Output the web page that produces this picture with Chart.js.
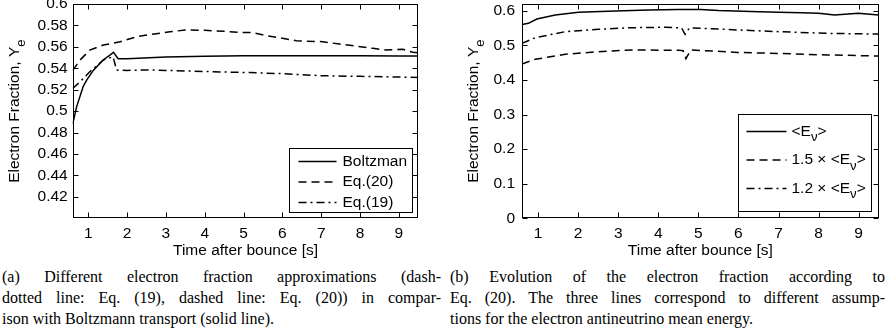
<!DOCTYPE html>
<html><head><meta charset="utf-8">
<script src="https://cdn.jsdelivr.net/npm/chart.js@4/dist/chart.umd.min.js"></script>
<style>
html,body{margin:0;padding:0;background:#fff;}
body{width:886px;height:335px;position:relative;overflow:hidden;}
canvas{position:absolute;top:0;}
#ca{left:0}
#cb{left:443px}
.cap{position:absolute;top:266px;font-family:"Liberation Serif","Times New Roman",serif;font-size:16px;line-height:21px;color:#000;}
.cap div{text-align:justify;text-align-last:justify;}
.cap div.last{text-align-last:left;}
#capa{left:2px;width:439px;}
#capb{left:450px;width:435px;}
</style></head>
<body>
<canvas id="ca" width="443" height="262"></canvas>
<canvas id="cb" width="443" height="262"></canvas>
<div class="cap" id="capa">
<div>(a) Different electron fraction approximations (dash-</div>
<div>dotted line: Eq. (19), dashed line: Eq. (20)) in compar-</div>
<div class="last">ison with Boltzmann transport (solid line).</div>
</div>
<div class="cap" id="capb">
<div>(b) Evolution of the electron fraction according to</div>
<div>Eq. (20). The three lines correspond to different assump-</div>
<div class="last">tions for the electron antineutrino mean energy.</div>
</div>
<script>
// ---------- data ----------
const xTicks = [1, 2, 3, 4, 5, 6, 7, 8, 9];
const yTicksA = [0.42, 0.44, 0.46, 0.48, 0.5, 0.52, 0.54, 0.56, 0.58, 0.6];
const yTicksB = [0, 0.1, 0.2, 0.3, 0.4, 0.5, 0.6];
const yTitle = 'Electron Fraction, Y_{e}';
const xTitle = 'Time after bounce [s]';

// panel (a)
const tBoltz = [0.6, 0.7, 0.87, 0.96, 1.13, 1.39, 1.55, 1.65, 1.77, 2.0, 3.0, 4.0, 5.0, 6.0, 7.0, 8.0, 9.0, 9.5];
const yBoltz = [0.488, 0.504, 0.523, 0.529, 0.538, 0.548, 0.552, 0.555, 0.549, 0.549, 0.5505, 0.5512, 0.5516, 0.5517, 0.5517, 0.5517, 0.5515, 0.5515];
const tEq20 = [0.6, 0.79, 1.04, 1.39, 1.82, 2.25, 2.7, 3.1, 3.5, 4.0, 4.5, 4.9, 5.2, 5.59, 6.0, 6.36, 7.04, 7.47, 7.9, 8.33, 8.67, 9.1, 9.36, 9.5];
const yEq20 = [0.538, 0.5477, 0.557, 0.5617, 0.5648, 0.5695, 0.572, 0.5741, 0.5757, 0.5755, 0.5745, 0.5735, 0.5735, 0.5704, 0.568, 0.5657, 0.5648, 0.5626, 0.5607, 0.5586, 0.557, 0.5577, 0.5549, 0.5545];
const tEq19 = [0.6, 0.79, 1.04, 1.39, 1.64, 1.73, 2.0, 2.5, 3.0, 4.0, 4.9, 5.16, 6.0, 7.04, 8.0, 9.0, 9.5];
const yEq19 = [0.5212, 0.5274, 0.5367, 0.5477, 0.5508, 0.5383, 0.538, 0.5385, 0.538, 0.537, 0.5362, 0.536, 0.535, 0.533, 0.5325, 0.5318, 0.5315];

// panel (b)
const tE10 = [0.6, 0.76, 0.97, 1.43, 2.01, 2.93, 3.77, 4.5, 5.06, 5.5, 6.31, 7.0, 7.57, 8.0, 8.4, 8.99, 9.5];
const yE10 = [0.561, 0.564, 0.5767, 0.588, 0.596, 0.600, 0.603, 0.604, 0.604, 0.601, 0.598, 0.596, 0.595, 0.593, 0.588, 0.593, 0.588];
const tE15 = [0.6, 0.93, 1.68, 2.51, 3.35, 4.52, 4.62, 4.69, 4.81, 5.98, 7.0, 8.24, 9.5];
const yE15 = [0.4465, 0.460, 0.4745, 0.482, 0.487, 0.486, 0.485, 0.462, 0.487, 0.480, 0.477, 0.4725, 0.4696];
const tE12 = [0.6, 0.93, 1.68, 2.51, 3.35, 4.18, 4.58, 4.67, 4.78, 5.98, 7.0, 8.24, 9.5];
const yE12 = [0.506, 0.5226, 0.540, 0.547, 0.5515, 0.5527, 0.551, 0.532, 0.551, 0.545, 0.540, 0.535, 0.533];

// ---------- helpers ----------
const FAM = '"Liberation Sans", Arial, sans-serif';
const FS = 15.5;
const pts = (t, y) => t.map((v, i) => ({x: v, y: y[i]}));
const SOLID = [], DASH = [8, 5], DASHDOT = [8, 4, 2, 4];

function parseRich(s) {
  const out = []; const re = /_\{([^}]*)\}/g; let last = 0, m;
  while ((m = re.exec(s))) {
    if (m.index > last) out.push({t: s.slice(last, m.index), sub: false});
    out.push({t: m[1], sub: true}); last = re.lastIndex;
  }
  if (last < s.length) out.push({t: s.slice(last), sub: false});
  return out;
}
function richWidth(ctx, parts, size) {
  let w = 0;
  for (const p of parts) { ctx.font = `${p.sub ? size * 0.85 : size}px ${FAM}`; w += ctx.measureText(p.t).width; }
  return w;
}
function drawRich(ctx, parts, x, y, size) {
  let cx = x;
  ctx.textBaseline = 'middle'; ctx.textAlign = 'left'; ctx.fillStyle = '#000';
  for (const p of parts) {
    ctx.font = `${p.sub ? size * 0.85 : size}px ${FAM}`;
    ctx.fillText(p.t, cx, p.sub ? y + size * 0.38 : y);
    cx += ctx.measureText(p.t).width;
  }
}

const framePlugin = {
  id: 'frame',
  afterDraw(chart, args, o) {
    const ctx = chart.ctx, a = chart.chartArea, L = 5;
    ctx.save();
    ctx.strokeStyle = '#000'; ctx.lineWidth = 1; ctx.setLineDash([]);
    const l = Math.round(a.left) + 0.5, r = Math.round(a.right) - 0.5, t = Math.round(a.top) + 0.5, b = Math.round(a.bottom) - 0.5;
    ctx.strokeRect(l, t, r - l, b - t);
    ctx.beginPath();
    for (const tk of chart.scales.x.ticks) {
      const px = Math.round(chart.scales.x.getPixelForValue(tk.value)) + 0.5;
      ctx.moveTo(px, b); ctx.lineTo(px, b - L);
      ctx.moveTo(px, t); ctx.lineTo(px, t + L);
    }
    for (const tk of chart.scales.y.ticks) {
      const py = Math.round(chart.scales.y.getPixelForValue(tk.value)) + 0.5;
      ctx.moveTo(l, py); ctx.lineTo(l + L, py);
      ctx.moveTo(r, py); ctx.lineTo(r - L, py);
    }
    ctx.stroke();
    // y title (rotated, with subscript)
    const parts = parseRich(o.yTitle);
    const w = richWidth(ctx, parts, FS);
    ctx.translate(o.yTitleX, (a.top + a.bottom) / 2);
    ctx.rotate(-Math.PI / 2);
    drawRich(ctx, parts, -w / 2, 0, FS);
    ctx.restore();
  }
};

const legendPlugin = {
  id: 'boxLegend',
  afterDraw(chart, args, o) {
    const ctx = chart.ctx, a = chart.chartArea;
    const bx = Math.round(a.right - o.mr - o.w) + 0.5, by = Math.round(a.bottom - o.mb - o.h) + 0.5;
    ctx.save();
    ctx.fillStyle = '#fff'; ctx.fillRect(bx, by, o.w, o.h);
    ctx.strokeStyle = '#000'; ctx.lineWidth = 1; ctx.setLineDash([]);
    ctx.strokeRect(bx, by, Math.round(o.w), Math.round(o.h));
    chart.data.datasets.forEach((ds, i) => {
      const yy = by + o.rowStart + i * o.rowGap;
      ctx.beginPath();
      ctx.setLineDash(ds.borderDash || []);
      ctx.lineWidth = ds.borderWidth; ctx.strokeStyle = ds.borderColor;
      ctx.moveTo(bx + o.s0, yy); ctx.lineTo(bx + o.s1, yy); ctx.stroke();
      ctx.setLineDash([]);
      drawRich(ctx, parseRich(ds.label), bx + o.tx, yy, FS);
    });
    ctx.restore();
  }
};

function ds(label, data, dash) {
  return {label, data, borderColor: '#000', borderWidth: 1.5, borderDash: dash, pointRadius: 0, fill: false, tension: 0};
}

function makeOptions(c) {
  return {
    responsive: false, animation: false, devicePixelRatio: 1,
    layout: {padding: {left: 0, right: c.padRight, top: 4, bottom: 0}},
    plugins: {
      legend: {display: false}, tooltip: {enabled: false},
      frame: {yTitle: yTitle, yTitleX: c.titleX},
      boxLegend: c.legend
    },
    scales: {
      x: {
        type: 'linear', min: 0.6, max: 9.5,
        grid: {display: false, drawTicks: false, tickLength: 0}, border: {display: false},
        afterBuildTicks: ax => { ax.ticks = xTicks.map(v => ({value: v})); },
        afterFit: ax => { ax.height = 262 - 218.3; ax.paddingLeft = 0; ax.paddingRight = 0; },
        ticks: {color: '#000', font: {family: FAM, size: FS}, padding: 6.4, maxRotation: 0, autoSkip: false, callback: v => String(v)},
        title: {display: true, text: xTitle, color: '#000', font: {family: FAM, size: FS}, padding: {top: 0, bottom: 2}}
      },
      y: {
        type: 'linear', min: c.yMin, max: c.yMax,
        grid: {display: false, drawTicks: false, tickLength: 0}, border: {display: false},
        afterBuildTicks: ax => { ax.ticks = c.yTicks.map(v => ({value: v})); },
        afterFit: ax => { ax.width = c.yWidth; ax.paddingTop = 0; ax.paddingBottom = 0; },
        ticks: {color: '#000', font: {family: FAM, size: FS}, padding: c.yPad, autoSkip: false, callback: v => String(+v.toFixed(2))}
      }
    }
  };
}

new Chart(document.getElementById('ca'), {
  type: 'line',
  data: {datasets: [
    ds('Boltzman', pts(tBoltz, yBoltz), SOLID),
    ds('Eq.(20)', pts(tEq20, yEq20), DASH),
    ds('Eq.(19)', pts(tEq19, yEq19), DASHDOT)
  ]},
  options: makeOptions({yMin: 0.4, yMax: 0.6, yTicks: yTicksA, yWidth: 72.7, yPad: 5, padRight: 24.7, titleX: 15,
    legend: {w: 123, h: 64, mr: 6.3, mb: 6.3, rowStart: 13, rowGap: 20.5, s0: 9, s1: 47, tx: 53}}),
  plugins: [framePlugin, legendPlugin]
});

new Chart(document.getElementById('cb'), {
  type: 'line',
  data: {datasets: [
    ds('<E_{ν}>', pts(tE10, yE10), SOLID),
    ds('1.5 × <E_{ν}>', pts(tE15, yE15), DASH),
    ds('1.2 × <E_{ν}>', pts(tE12, yE12), DASHDOT)
  ]},
  options: makeOptions({yMin: 0, yMax: 0.62, yTicks: yTicksB, yWidth: 79, yPad: 7, padRight: 7.3, titleX: 31,
    legend: {w: 132.7, h: 96.7, mr: 8, mb: 7.6, rowStart: 17, rowGap: 28.5, s0: 8, s1: 48, tx: 53}}),
  plugins: [framePlugin, legendPlugin]
});
</script>
</body></html>
